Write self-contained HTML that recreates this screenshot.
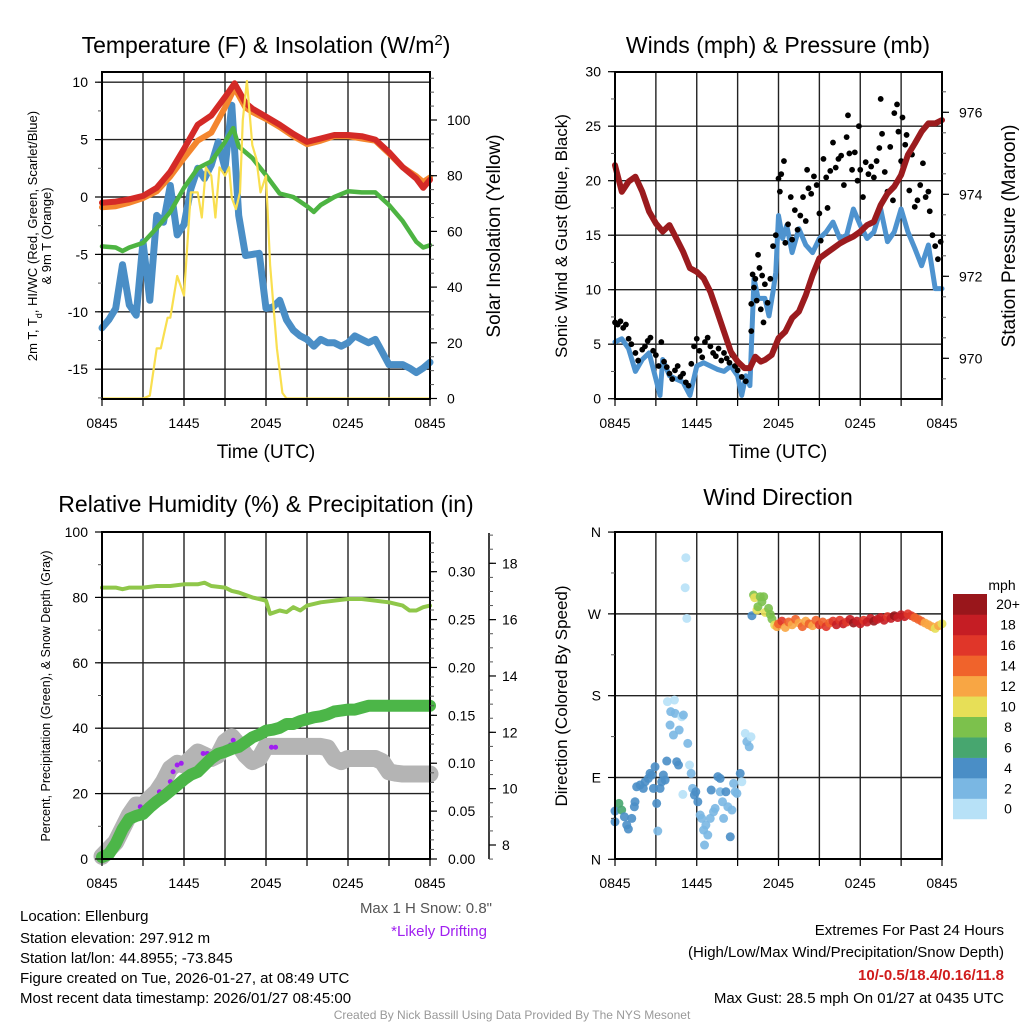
<!DOCTYPE html>
<html><head><meta charset="utf-8"><title>Mesonet Station Summary</title>
<style>
html,body{margin:0;padding:0;background:#fff;}
svg{display:block;font-family:"Liberation Sans",sans-serif;}
</style></head>
<body>
<svg id="chart" width="1024" height="1024" viewBox="0 0 1024 1024" xmlns="http://www.w3.org/2000/svg">
<rect x="0" y="0" width="1024" height="1024" fill="#fff"/>
<text x="266" y="53" font-size="23" text-anchor="middle">Temperature (F) &amp; Insolation (W/m<tspan baseline-shift="super" font-size="15">2</tspan>)</text>
<text x="778" y="53" font-size="23" text-anchor="middle">Winds (mph) &amp; Pressure (mb)</text>
<text x="266" y="512" font-size="23" text-anchor="middle">Relative Humidity (%) &amp; Precipitation (in)</text>
<text x="778" y="505" font-size="23" text-anchor="middle">Wind Direction</text>
<text x="266" y="458" font-size="19" text-anchor="middle">Time (UTC)</text>
<text x="778" y="458" font-size="19" text-anchor="middle">Time (UTC)</text>
<text transform="translate(37,236) rotate(-90)" font-size="13" text-anchor="middle">2m T, T<tspan baseline-shift="sub" font-size="9">d</tspan>, HI/WC (Red, Green, Scarlet/Blue)</text>
<text transform="translate(51,236) rotate(-90)" font-size="13" text-anchor="middle">&amp; 9m T (Orange)</text>
<text transform="translate(500,236) rotate(-90)" font-size="19" text-anchor="middle">Solar Insolation (Yellow)</text>
<text transform="translate(567,236) rotate(-90)" font-size="17" text-anchor="middle">Sonic Wind &amp; Gust (Blue, Black)</text>
<text transform="translate(1015,236) rotate(-90)" font-size="19" text-anchor="middle">Station Pressure (Maroon)</text>
<text transform="translate(50,696) rotate(-90)" font-size="12.5" text-anchor="middle">Percent, Precipitation (Green), &amp; Snow Depth (Gray)</text>
<text transform="translate(567,696) rotate(-90)" font-size="17" text-anchor="middle">Direction (Colored By Speed)</text>
<text x="1002" y="590" font-size="14" text-anchor="middle">mph</text>
<text x="492" y="913" font-size="15" text-anchor="end" fill="#555">Max 1 H Snow: 0.8"</text>
<text x="487" y="936" font-size="15" text-anchor="end" fill="#a020f0">*Likely Drifting</text>
<g font-size="15">
<text x="20" y="921">Location: Ellenburg</text>
<text x="20" y="943">Station elevation: 297.912 m</text>
<text x="20" y="963">Station lat/lon: 44.8955; -73.845</text>
<text x="20" y="983">Figure created on Tue, 2026-01-27, at 08:49 UTC</text>
<text x="20" y="1003">Most recent data timestamp: 2026/01/27 08:45:00</text>
</g>
<g font-size="15" text-anchor="end">
<text x="1004" y="935">Extremes For Past 24 Hours</text>
<text x="1004" y="957">(High/Low/Max Wind/Precipitation/Snow Depth)</text>
<text x="1004" y="980" fill="#d01c1c" font-weight="bold">10/-0.5/18.4/0.16/11.8</text>
<text x="1004" y="1003">Max Gust: 28.5 mph On 01/27 at 0435 UTC</text>
</g>
<text x="512" y="1019" font-size="12" fill="#999" text-anchor="middle">Created By Nick Bassill Using Data Provided By The NYS Mesonet</text>
</svg>
<script>
// ===== DATA =====
const xTickLabels = ["0845","1445","2045","0245","0845"];
const xTickHours = [0,6,12,18,24];
const tempHours = [0,1,2,3,4,5,6,7,8,9,9.7,10.5,11,12,13,14,15,16,17,18,19,20,21,22,23,23.5,24];
const tempRed =    [-0.5,-0.4,-0.2,0.1,0.8,2.2,4.2,6.3,7.1,8.7,9.9,8.2,7.7,7.0,6.3,5.5,4.8,5.1,5.4,5.4,5.3,5.0,3.9,2.6,1.6,0.8,1.5];
const tempOrange = [-0.9,-0.8,-0.5,-0.1,0.5,1.8,3.4,4.9,5.6,7.8,9.5,7.8,7.4,6.8,6.1,5.3,4.6,4.9,5.3,5.3,5.1,4.9,3.8,2.6,1.8,1.3,1.7];
const hiHours = [0,1,1.5,2,3,4,5,6,7,8,9,9.6,10,11,12,13,14,15,15.5,16,17,18,19,20,21,22,23,23.5,24];
const hiGreen = [-4.3,-4.4,-4.7,-4.4,-4.0,-2.7,-1.3,0.8,2.5,3.1,4.8,6.0,4.4,3.4,1.9,0.3,0,-0.8,-1.3,-0.7,0,0.5,0.4,0.4,-0.7,-2.1,-3.9,-4.4,-4.2];
const dewHours = [0,0.5,1,1.5,2,2.5,3,3.5,4,4.5,5,5.5,6,6.5,7,7.5,8,8.5,9,9.5,10,10.5,11,11.5,12,12.5,13,13.5,14,14.5,15,15.5,16,16.5,17,17.5,18,18.5,19,19.5,20,20.5,21,21.5,22,22.5,23,23.5,24];
const dewBlue = [-11.4,-10.7,-9.7,-5.9,-9.4,-10.3,-3.9,-9.0,-1.6,-2.2,1.0,-3.3,-2.4,0.7,2.5,1.6,2.8,4.8,2.5,8.0,-1.6,-5.1,-5.0,-4.9,-9.7,-9.6,-9.0,-10.7,-11.6,-12.1,-12.4,-13.0,-12.4,-12.7,-12.7,-13.0,-12.7,-12.1,-12.4,-12.7,-12.4,-13.5,-14.6,-14.6,-14.6,-14.9,-15.3,-14.9,-14.4];
const solarHours = [0,3,3.5,4,4.3,4.8,5,5.5,6,6.5,7,7.3,7.6,8,8.3,8.6,9,9.3,9.5,9.8,10.1,10.3,10.6,11,11.3,11.6,12,12.3,12.8,13.2,13.5,24];
const solarYellow = [0,0,1,18,18,29,29,44,37,74,74,65,83,80,65,83,80,83,72,68,74,100,114,91,86,74,80,48,18,2,0,0];
const windHours = [0,0.5,1,1.5,2,2.5,3,3.3,3.5,4,4.5,5,5.5,6,6.5,7,7.5,8,8.5,9,9.3,9.6,9.9,10.2,10.5,11,11.3,11.6,11.8,12,12.3,12.6,13,13.5,14,14.5,15,15.5,16,16.5,17,17.5,18,18.5,19,19.5,20,20.5,21,21.5,22,22.5,23,23.5,24];
const windSpeed = [5.2,5.5,4.6,2.5,3.6,4.2,1.8,0.3,3.6,2.1,1.8,1.5,0.3,3.0,3.3,3.0,2.7,2.5,3.0,2.1,0.3,2.1,1.2,11.0,9.2,9.2,7.6,9.8,11.6,16.8,14.7,15.9,13.4,15.6,14.1,13.4,14.7,15.3,16.2,14.7,15.0,17.4,15.9,14.7,15.3,17.4,14.4,15.3,17.4,15.3,13.8,12.2,14.1,10.1,10.1];
const gustHours = [0,0.2,0.4,0.6,0.8,1.0,1.2,1.5,1.7,2.0,2.2,2.4,2.6,2.8,3.0,3.2,3.4,3.6,3.8,4.0,4.2,4.4,4.6,4.8,5.0,5.2,5.4,5.6,5.8,6.0,6.2,6.4,6.6,6.8,7.0,7.2,7.4,7.6,7.8,8.0,8.2,8.4,8.6,8.8,9.0,9.3,9.6,10.0,10.0,10.1,10.2,10.3,10.4,10.5,10.6,10.7,10.8,10.9,11.0,11.2,11.4,11.6,11.8,12.0,12.1,12.2,12.4,12.5,12.7,12.9,13.0,13.2,13.4,13.6,13.8,14.0,14.1,14.2,14.4,14.6,14.8,15.0,15.1,15.3,15.5,15.6,15.8,16.0,16.2,16.4,16.6,16.8,17.0,17.1,17.2,17.4,17.6,17.8,17.9,18.0,18.2,18.4,18.6,18.8,19.0,19.2,19.4,19.5,19.6,19.8,20.0,20.2,20.4,20.5,20.7,20.8,21.0,21.1,21.3,21.4,21.6,21.8,22.0,22.2,22.4,22.6,22.8,23.0,23.1,23.3,23.5,23.7,23.9];
const gustSpeed = [7.0,6.8,7.1,6.5,6.8,5.5,5.0,4.2,3.5,4.5,4.8,5.3,5.6,4.4,4.0,3.0,5.2,3.4,2.9,2.3,1.8,2.6,3.0,2.0,2.3,1.5,1.2,3.2,4.8,5.5,4.4,3.8,5.2,5.6,4.8,4.2,3.9,4.6,3.5,4.2,3.7,3.3,4.0,3.0,2.6,2.0,1.6,6.2,8.7,11.4,10.2,11.0,9.0,13.2,12.0,8.2,11.3,7.0,10.5,8.8,11.0,14.0,15.0,20.2,19.0,20.6,21.8,14.3,16.0,18.5,14.6,17.3,15.5,16.8,18.5,16.3,21.0,19.3,18.8,20.4,19.6,17.0,14.5,22.0,20.3,17.5,20.9,23.5,21.2,22.0,22.3,19.6,24.0,26.0,22.5,21.0,22.6,20.0,25.0,21.0,18.5,21.7,20.6,21.3,20.3,21.8,23.0,27.5,24.3,20.8,19.0,23.1,18.2,26.2,27.0,24.5,21.8,25.8,23.3,24.2,19.1,22.4,17.6,18.2,19.6,21.6,18.5,19.0,17.2,15.0,14.0,12.8,14.4];
const pressHours = [0,0.5,1,1.5,2,2.5,3,3.5,4,4.5,5,5.5,6,6.5,7,7.5,8,8.5,9,9.5,9.9,10.3,10.7,11,11.5,12,12.5,13,13.5,14,14.5,15,15.5,16,16.5,17,17.5,18,18.5,19,19.5,20,20.5,21,21.5,22,22.5,23,23.5,24];
const pressMb = [974.71,974.06,974.31,974.43,974.06,973.58,973.29,973.09,973.25,972.93,972.6,972.2,972.11,971.95,971.62,971.14,970.65,970.16,969.92,969.76,969.76,970.04,969.92,969.96,970.08,970.49,970.65,970.98,971.14,971.54,972.03,972.44,972.56,972.68,972.8,972.89,972.97,973.09,973.25,973.33,973.74,974.02,974.19,974.47,974.96,975.24,975.53,975.73,975.73,975.81];
const rhHours = [0,1,1.5,2,3,4,5,6,7,7.5,8,9,9.5,10,11,11.5,12,12.3,13,13.5,14,14.5,15,16,17,18,19,20,21,22,22.5,23,23.5,24];
const rhPct = [83,83,82.5,83,83,83.5,83.5,84,84,84.5,83.5,83,82,81.5,80,79.5,79,75,76,75.5,77,76,77.5,78.5,79,79.5,79.5,79,78.5,77.5,76,76,77,77.5];
const precipHours = [0,0.5,1,1.5,2,2.5,3,3.5,4,4.5,5,5.5,6,6.5,7,7.5,8,8.5,9,9.5,10,10.5,11,11.5,12,12.5,13,13.5,14,14.5,15,15.5,16,16.5,17,17.5,18,18.5,19,19.5,20,24];
const precipIn = [0.002,0.005,0.016,0.031,0.042,0.045,0.047,0.054,0.060,0.065,0.071,0.077,0.083,0.088,0.091,0.098,0.105,0.110,0.112,0.115,0.117,0.122,0.127,0.130,0.134,0.135,0.137,0.141,0.141,0.144,0.146,0.148,0.149,0.151,0.154,0.155,0.156,0.156,0.158,0.160,0.160,0.160];
const snowHours = [0,1,2,2.5,3,3.5,4,4.5,5,5.5,6,6.5,7,7.5,8,8.5,9,9.5,10,10.5,11,11.5,12,13,14,15,16,16.5,17,17.5,18,19,20,20.5,21,21.5,22,23,24];
const snowIn = [7.6,8.1,9.06,9.42,9.4,9.66,9.89,10.25,10.72,10.9,10.84,11.07,11.3,11.19,11.07,11.19,11.66,11.84,11.55,11.19,10.96,11.07,11.5,11.5,11.5,11.5,11.5,11.45,11.07,10.96,11.07,11.07,11.07,10.96,10.6,10.55,10.52,10.52,10.52];
const driftHours = [2.8,4.2,5.0,5.2,5.5,5.8,7.4,7.7,9.4,9.6,12.4,12.7];
const driftIn = [9.36,9.89,10.25,10.6,10.84,10.9,11.25,11.25,11.55,11.72,11.47,11.47];
const dirHours = [0,0,0.29,0.49,0.69,0.86,0.98,1.23,1.42,1.47,1.59,1.84,2.08,2.21,2.45,2.57,2.7,2.94,2.82,3.06,3.14,3.31,3.43,3.55,3.68,3.8,3.85,4.04,4.09,4.29,4.36,4.41,4.53,4.66,4.71,4.9,5.02,5.2,5.15,5.27,4.98,5.34,5.47,5.59,5.69,5.83,5.93,6.08,6.25,6.37,6.5,6.57,6.67,6.81,6.99,7.06,7.23,7.35,7.55,7.72,7.72,7.89,7.97,8.14,8.28,8.46,8.58,8.7,8.82,8.95,9.19,9.31,9.56,9.68,9.85,9.98,10.05,10.17,10.25,10.42,10.49,10.66,10.91,10.78,11.03,11.27,11.4,11.52,11.72,11.89,
 12,12.25,12.5,12.75,13,13.25,13.5,13.75,14,14.25,14.5,14.75,15,15.25,15.5,15.75,16,16.25,16.5,16.75,17,17.25,17.5,17.75,18,18.25,18.5,18.75,19,19.25,19.5,19.75,20,20.25,20.5,20.75,21,21.25,21.5,21.75,22,22.25,22.5,22.75,23,23.25,23.5,23.75,24];
const dirDeg = [41.3,53.1,61.5,54.2,46.8,37.7,33.3,45,57.8,63.3,79.8,81.7,78,85.3,89,94.5,92.7,101.8,78,61.5,31.1,78,85.3,92.7,87.2,108.1,173.4,147.7,162.4,136.7,175.2,160.5,107.3,103.7,142.2,156.8,158.7,331.8,298.8,265,71.4,127.5,103.7,94.5,78,70.7,74.3,63.3,48.7,45,32.2,15.7,37.7,26.7,45,76.2,52.3,56,90.9,89,74.3,63.3,45,74.3,57.8,24.8,54.2,83.5,74.3,72.5,94.5,85.3,138.5,129.4,123.8,134.8,268,290.7,287.8,274.2,277.9,288.9,288.9,283.4,271.6,276,269.4,264.3,257.7,255.9,
 259,262,255,261,258,264,260,256,262,259,257,263,258,261,256,260,262,258,263,259,261,264,260,262,259,263,261,265,262,264,266,263,267,265,268,266,269,267,270,268,266,264,262,260,258,256,254,257,259];
const dirSpeed = [4,4,6,6,4,4,4,4,3.5,3.5,4,4,4,4,4,4,4,3.5,3.5,3.5,2,3.5,4,4,3.5,3.5,0.5,2,2.5,2,0.5,2.5,3.5,3.5,2.5,0.5,2,0.5,0.5,0.5,0.5,2,0.5,2.5,2.5,3.5,3.5,3.5,2.5,2.5,2.5,2.5,2.5,2.5,2.5,3.5,2.5,2.5,3.5,3.5,2.5,2.5,2.5,3.5,2.5,3.5,2.5,2.5,2.5,2,3.5,0.5,0.5,2,2.5,0.5,4,8,10,10,8,8,8,8,10,8,8,8,10,12,
 14,16,12,14,12,13,12,14,12,13,12,14,15,14,16,14,15,17,16,18,16,17,19,18,17,16,18,17,19,18,17,18,16,18,19,17,18,17,16,15,14,13,14,12,12,11,10,11,10];
const colorbarLabels = ["0","2","4","6","8","10","12","14","16","18","20+"];
const speedColors = ["#b7e1f7","#7ab7e3","#4a8ec6","#47a66f","#7cc14c","#e7df57","#f8a644","#f0632b","#e03629","#c51d24","#99161b"];

// ===== DRAWING =====
const NS = 'http://www.w3.org/2000/svg';
const svg = document.getElementById('chart');
function mk(tag, attrs, parent) {
  const e = document.createElementNS(NS, tag);
  for (const k in attrs) e.setAttribute(k, attrs[k]);
  (parent || svg).appendChild(e);
  return e;
}
const P1 = {x0:102, x1:430, y0:72, y1:399};
const P2 = {x0:615, x1:942, y0:72, y1:399};
const P3 = {x0:102, x1:430, y0:532, y1:859};
const P4 = {x0:615, x1:942, y0:532, y1:859};
function xs(p, h) { return p.x0 + h / 24 * (p.x1 - p.x0); }
const yTemp = v => 197 - v * 11.48;
const ySolar = v => 398.5 - v * 2.785;
const yWind = v => 398.7 - v * 10.9;
const yPress = v => 112.3 + (976 - v) * 41.0;
const yRH = v => 859 - v * 3.27;
const yPrecip = v => 859 - v * 957.7;
const ySnow = v => 845 - (v - 8) * 28.17;
const yDir = v => 859.3 - v * 0.909;
function speedColor(s) { return speedColors[Math.min(10, Math.floor((s + 1) / 2))]; }
function linePath(p, hours, vals, yf) {
  return hours.map((h, i) => (i ? 'L' : 'M') + xs(p, h).toFixed(1) + ',' + yf(vals[i]).toFixed(1)).join('');
}
function drawGrid(p, name, yVals, yf) {
  const g = mk('g', {});
  
  
  for (let h = 3; h < 24; h += 3) {
    const l = mk('line', {x1:xs(p,h), x2:xs(p,h), y1:p.y0, y2:p.y1, stroke:'#222', 'stroke-width':1.4}, g);
    
    
  }
  yVals.forEach(v => {
    const l = mk('line', {x1:p.x0, x2:p.x1, y1:yf(v), y2:yf(v), stroke:'#222', 'stroke-width':1.4}, g);
    
    
  });
}
function drawFrame(p, name) {
  const r = mk('rect', {x:p.x0, y:p.y0, width:p.x1-p.x0, height:p.y1-p.y0, fill:'none', stroke:'#000', 'stroke-width':2});
  
  
}
function drawXAxis(p, name) {
  const g = mk('g', {});
  
  
  for (let h = 0; h <= 24; h += 3) {
    const t = mk('line', {x1:xs(p,h), x2:xs(p,h), y1:p.y1, y2:p.y1+7, stroke:'#000', 'stroke-width':1.2}, g);
    
    
  }
  xTickHours.forEach((h, i) => {
    const t = mk('text', {x:xs(p,h), y:p.y1+29, 'font-size':14, 'text-anchor':'middle'}, g);
    t.textContent = xTickLabels[i];
    
    
  });
}
function drawYAxis(axisX, side, majors, labels, minors, yf, name, labelOffset, yTop, yBot, lineToo) {
  const g = mk('g', {});
  
  
  const dir = side === 'left' ? -1 : 1;
  if (lineToo) {
    const l = mk('line', {x1:axisX, x2:axisX, y1:yTop, y2:yBot, stroke:'#000', 'stroke-width':1.5}, g);
    
    
  }
  minors.forEach(v => {
    const t = mk('line', {x1:axisX, x2:axisX+dir*4, y1:yf(v), y2:yf(v), stroke:'#555', 'stroke-width':1}, g);
    
    
  });
  majors.forEach((v, i) => {
    const t = mk('line', {x1:axisX, x2:axisX+dir*7, y1:yf(v), y2:yf(v), stroke:'#000', 'stroke-width':1.2}, g);
    
    
    const tx = mk('text', {x:axisX+dir*labelOffset, y:yf(v)+5, 'font-size':14, 'text-anchor': side==='left'?'end':'start'}, g);
    tx.textContent = labels[i];
    
    
  });
}
function range(a, b, s) { const r = []; for (let v = a; v <= b + 1e-9; v += s) r.push(+v.toFixed(4)); return r; }

// ---- Panel 1 ----
drawGrid(P1, 'temperature', [-15,-10,-5,0,5,10], yTemp);
const tBlue = mk('path', {d:linePath(P1, dewHours, dewBlue, yTemp), fill:'none', stroke:'#4a8ec6', 'stroke-width':7, 'stroke-linejoin':'round', 'stroke-linecap':'round'});


const tGreen = mk('path', {d:linePath(P1, hiHours, hiGreen, yTemp), fill:'none', stroke:'#4db442', 'stroke-width':4.5, 'stroke-linejoin':'round', 'stroke-linecap':'round'});


const tOrange = mk('path', {d:linePath(P1, tempHours, tempOrange, yTemp), fill:'none', stroke:'#f4862e', 'stroke-width':6, 'stroke-linejoin':'round', 'stroke-linecap':'round'});


const tRed = mk('path', {d:linePath(P1, tempHours, tempRed, yTemp), fill:'none', stroke:'#d42a27', 'stroke-width':6, 'stroke-linejoin':'round', 'stroke-linecap':'round'});


const tSolar = mk('path', {d:linePath(P1, solarHours, solarYellow, ySolar), fill:'none', stroke:'#f9df4f', 'stroke-width':2.2, 'stroke-linejoin':'round'});


drawFrame(P1, 'temperature');
drawXAxis(P1, 'temperature');
drawYAxis(P1.x0, 'left', [-15,-10,-5,0,5,10], ['-15','-10','-5','0','5','10'], range(-17.5,10,2.5), yTemp, 'temperature-y-axis', 14, 72, 399, false);
drawYAxis(P1.x1, 'right', [0,20,40,60,80,100], ['0','20','40','60','80','100'], range(0,115,5), ySolar, 'solar-y-axis', 17, 72, 399, false);

// ---- Panel 2 ----
drawGrid(P2, 'winds', [5,10,15,20,25], yWind);
const wBlue = mk('path', {d:linePath(P2, windHours, windSpeed, yWind), fill:'none', stroke:'#4e93cf', 'stroke-width':5, 'stroke-linejoin':'round', 'stroke-linecap':'round'});


const gustG = mk('g', {});


gustHours.forEach((h, i) => {
  const c = mk('circle', {cx:xs(P2,h), cy:yWind(gustSpeed[i]), r:2.9, fill:'#000'}, gustG);
  
  
});
const wPress = mk('path', {d:linePath(P2, pressHours, pressMb, yPress), fill:'none', stroke:'#9b1b1e', 'stroke-width':6, 'stroke-linejoin':'round', 'stroke-linecap':'round'});


drawFrame(P2, 'winds');
drawXAxis(P2, 'winds');
drawYAxis(P2.x0, 'left', [0,5,10,15,20,25,30], ['0','5','10','15','20','25','30'], range(0,30,2.5), yWind, 'wind-y-axis', 14, 72, 399, false);
drawYAxis(P2.x1, 'right', [970,972,974,976], ['970','972','974','976'], range(969.5,976.5,0.5), yPress, 'pressure-y-axis', 17, 72, 399, false);

// ---- Panel 3 ----
drawGrid(P3, 'humidity', [20,40,60,80], yRH);
const hRH = mk('path', {d:linePath(P3, rhHours, rhPct, yRH), fill:'none', stroke:'#8fc74a', 'stroke-width':4, 'stroke-linejoin':'round', 'stroke-linecap':'round'});


const hSnow = mk('path', {d:linePath(P3, snowHours, snowIn, ySnow), fill:'none', stroke:'#b4b4b4', 'stroke-width':17, 'stroke-linejoin':'round', 'stroke-linecap':'round'});


const driftG = mk('g', {});


driftHours.forEach((h, i) => {
  const c = mk('circle', {cx:xs(P3,h), cy:ySnow(driftIn[i]), r:2.5, fill:'#a020f0'}, driftG);
  
  
});
const hPrecip = mk('path', {d:linePath(P3, precipHours, precipIn, yPrecip), fill:'none', stroke:'#4cb648', 'stroke-width':12, 'stroke-linejoin':'round', 'stroke-linecap':'round'});


drawFrame(P3, 'humidity');
drawXAxis(P3, 'humidity');
drawYAxis(P3.x0, 'left', [0,20,40,60,80,100], ['0','20','40','60','80','100'], range(0,100,10), yRH, 'humidity-y-axis', 14, 532, 859, false);
drawYAxis(P3.x1, 'right', [0,0.05,0.10,0.15,0.20,0.25,0.30], ['0.00','0.05','0.10','0.15','0.20','0.25','0.30'], range(0,0.33,0.01), yPrecip, 'precipitation-y-axis', 18, 532, 859, false);
drawYAxis(489, 'right', [8,10,12,14,16,18], ['8','10','12','14','16','18'], range(7.5,19,0.5), ySnow, 'snow-depth-y-axis', 13, 533, 859, true);

// ---- Panel 4 ----
drawGrid(P4, 'direction', [90,180,270], yDir);
const dirG = mk('g', {});


dirHours.forEach((h, i) => {
  const c = mk('circle', {cx:xs(P4,h), cy:yDir(dirDeg[i]), r:4.5, fill:speedColor(dirSpeed[i]), 'fill-opacity':0.9}, dirG);
  
  
});
drawFrame(P4, 'direction');
drawXAxis(P4, 'direction');
drawYAxis(P4.x0, 'left', [0,90,180,270,360], ['N','E','S','W','N'], range(0,360,45), yDir, 'direction-y-axis', 14, 532, 859, false);

const cb = mk('g', {});


const cbTop = 594, cbH = 20.45;
colorbarLabels.forEach((lab, i) => {
  const yy = cbTop + (10 - i) * cbH;
  const r = mk('rect', {x:953, y:yy, width:34, height:cbH+0.3, fill:speedColors[i]}, cb);
  
  
  const t = mk('text', {x:1008, y:yy+cbH/2+5, 'font-size':14, 'text-anchor':'middle'}, cb);
  t.textContent = lab;
  
  
});
</script>
</body></html>
